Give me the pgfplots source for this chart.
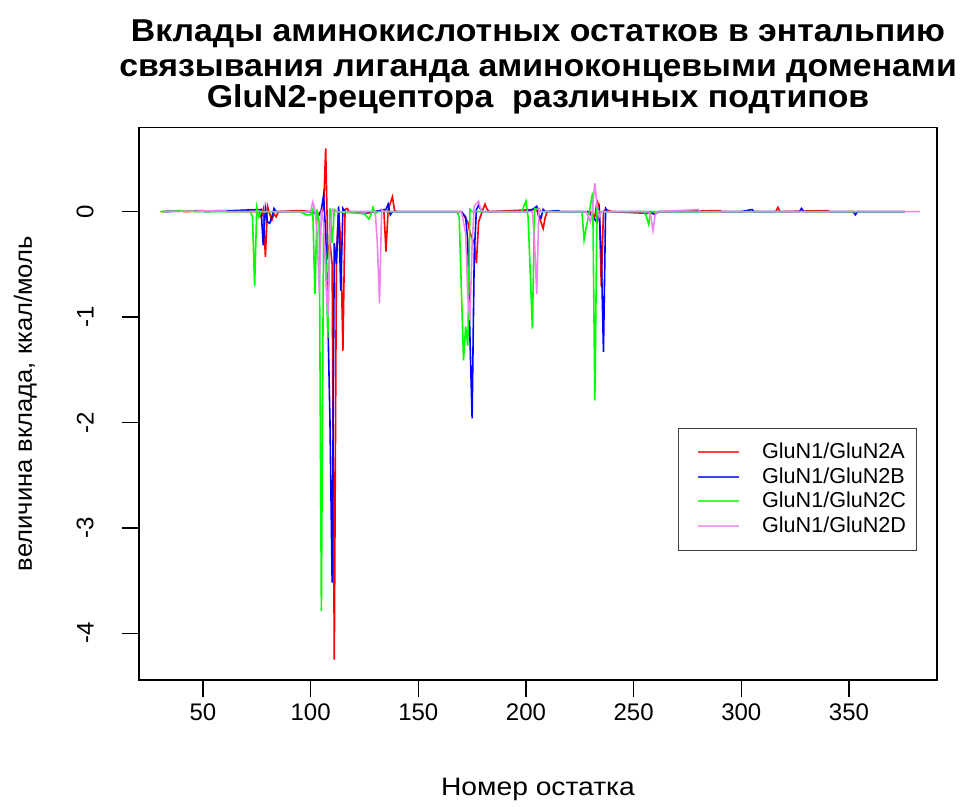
\documentclass[border=0pt]{standalone}
\usepackage{fontspec}
\setmainfont{Liberation Sans}
\newfontfamily\titlefont[FakeStretch=1.07]{Liberation Sans}
\newfontfamily\xlabfont[FakeStretch=1.12]{Liberation Sans}
\newfontfamily\ylabfont[FakeStretch=1.03]{Liberation Sans}
\usepackage{pgfplots}
\pgfplotsset{compat=1.18}
\definecolor{cA}{RGB}{255,0,0}
\definecolor{cB}{RGB}{0,0,255}
\definecolor{cC}{RGB}{0,255,0}
\definecolor{cD}{RGB}{238,130,238}

\pgfplotstableread{
x y
31 0
40 0.01
41 0
60 0.01
61 0
76 0
77 -0.05
78 0.02
79 -0.43
80 0.05
81 -0.02
82 -0.08
83 -0.02
84 -0.05
85 0
95 0.01
100 0
104 -0.02
106 0.02
107 0.60
108 -0.4
109 -0.3
110 -0.5
111 -4.25
112 -0.4
113 0.02
114 -0.3
115 -1.32
116 0.02
117 0.03
118 0
125 -0.02
130 0
134 0.02
135 -0.38
136 0.02
137 0.08
138 0.14
139 0.01
140 0
170 0
173 -0.1
174 -0.2
176 -0.3
177 -0.49
178 -0.1
180 0.02
181 0.07
182 0.02
183 0
205 0.02
206 -0.05
207 -0.1
208 -0.16
209 -0.05
210 0
230 0
232 -0.05
233 0.1
234 0.05
235 -0.71
236 0
237 0.02
240 0
260 -0.02
262 0
290 0.01
291 0
316 0
317 0.04
318 0
340 0.01
341 0
376 0
}\dataA

\pgfplotstableread{
x y
32 0
50 0.01
51 0
77 0.02
78 -0.32
79 0.03
80 -0.1
81 -0.11
82 -0.05
83 0.03
84 0
100 0
104 -0.03
105 0.02
106 0.15
107 -0.2
108 -1.0
109 -2.0
110 -3.52
111 -0.3
112 -0.5
113 0.05
114 -0.75
115 0.03
116 0
130 0
135 0.02
136 0.07
137 -0.03
138 0
170 0
172 -0.05
173 -0.3
174 -1.2
175 -1.96
176 -0.4
177 0.02
178 0.06
179 0.02
180 0
200 0
203 0.02
205 0.05
206 -0.03
207 -0.06
208 0.02
209 0
215 0.01
216 0
229 0
231 -0.05
233 -0.1
234 0.02
235 -0.4
236 -1.33
237 0.03
238 0
258 0
260 -0.03
261 0
300 0
305 0.02
306 0
327 0
328 0.03
329 0
352 0
353 -0.03
354 0
376 0
}\dataB

\pgfplotstableread{
x y
30 0
45 0.01
46 0
72 0
73 -0.05
74 -0.71
75 0.04
76 -0.05
77 0
95 0
98 -0.03
100 -0.03
101 0.02
102 -0.78
103 0.02
104 -0.1
105 -3.79
106 -0.2
107 -0.4
108 -1.2
109 0.03
110 -0.3
111 0.02
112 0
125 -0.02
127 -0.07
128 -0.03
129 0.04
130 -0.02
131 0
168 0
169 -0.05
171 -1.41
172 -1.09
173 -1.27
174 0.02
175 0
198 0
200 0.1
201 -0.05
203 -1.11
204 0.03
205 0.02
206 0.03
207 0
226 0
227 -0.27
228 -0.15
229 -0.05
231 0.18
232 -1.79
233 0.02
234 0
255 0
256 -0.05
257 -0.12
258 0
376 0
}\dataC

\pgfplotstableread{
x y
32 0
60 0.01
61 0
100 0
101 0.09
102 0.02
103 -0.2
104 -0.76
105 0.02
106 -0.1
107 -0.6
108 -1.0
109 -0.2
110 0.02
111 0
130 0
131 -0.3
132 -0.87
133 0.02
134 0
170 0
172 -0.2
173 -0.8
174 -1.03
175 -0.3
176 0.05
178 0.1
179 0.02
180 0
203 0
204 -0.3
205 -0.78
206 0.02
207 0
228 0
229 -0.05
230 -0.1
231 0.05
232 0.27
233 0.05
234 -0.05
235 0
257 0
258 -0.05
259 -0.18
260 -0.03
261 0
280 0.02
281 0
383 0
}\dataD

\begin{document}
\begin{tikzpicture}
\begin{axis}[
  name=ax,
  scale only axis,
  width=399pt, height=276.35pt,
  xmin=20.3, xmax=390.9,
  ymin=-4.443, ymax=0.80,
  xtick={50,100,...,350},
  ytick={-4,-3,-2,-1,0},
  tick align=outside,
  major tick length=8.5pt,
  xtick pos=bottom, ytick pos=left,
  axis line style={black, line width=0.7pt},
  tick style={black, line width=0.7pt},
  ticklabel style={font=\fontsize{12}{14}\selectfont},
  /pgf/number format/assume math mode=true,
  yticklabel style={rotate=90, anchor=south, inner ysep=14pt},
  legend style={at={(0.675,0.456)}, anchor=north west, draw=black!75,
    line width=0.6pt, font=\fontsize{10.8}{12}\selectfont,
    inner xsep=5pt, inner ysep=6pt, row sep=0pt,
    nodes={inner xsep=0pt, inner ysep=1pt, text height=8pt, text depth=2.25pt},
    /tikz/every odd column/.append style={column sep=11pt}},
  legend image code/.code={\path (0pt,0pt); \draw[#1, line width=1pt, opacity=0.75] (4.5pt,0.3pt) -- (25pt,0.3pt);},
  legend cell align=left,
  every axis plot/.append style={line width=0.8pt},
]
\addplot[cA] table {\dataA};
\addlegendentry{GluN1/GluN2A}
\addplot[cB] table {\dataB};
\addlegendentry{GluN1/GluN2B}
\addplot[cC] table {\dataC};
\addlegendentry{GluN1/GluN2C}
\addplot[cD] table {\dataD};
\addlegendentry{GluN1/GluN2D}
\end{axis}
\begin{scope}[every node/.style={font=\titlefont\bfseries\fontsize{15.8}{18}\selectfont, anchor=base}]
\node at ([yshift=42.65pt]ax.north) {Вклады аминокислотных остатков в энтальпию};
\node at ([yshift=25.15pt]ax.north) {связывания лиганда аминоконцевыми доменами};
\node at ([yshift=9.65pt]ax.north) {GluN2-рецептора\ \ различных подтипов};
\end{scope}
\node[anchor=base, font=\xlabfont\fontsize{12.6}{14}\selectfont] at ([yshift=-57.5pt]ax.south) {Номер остатка};
\node[anchor=base, rotate=90, font=\ylabfont\fontsize{12.4}{14}\selectfont] at ([xshift=-53.5pt]ax.west) {величина вклада, ккал/моль};
\path[use as bounding box] ([xshift=-69.5pt, yshift=-61.5pt]ax.south west) rectangle ([xshift=15.5pt, yshift=63.65pt]ax.north east);
\end{tikzpicture}
\end{document}
